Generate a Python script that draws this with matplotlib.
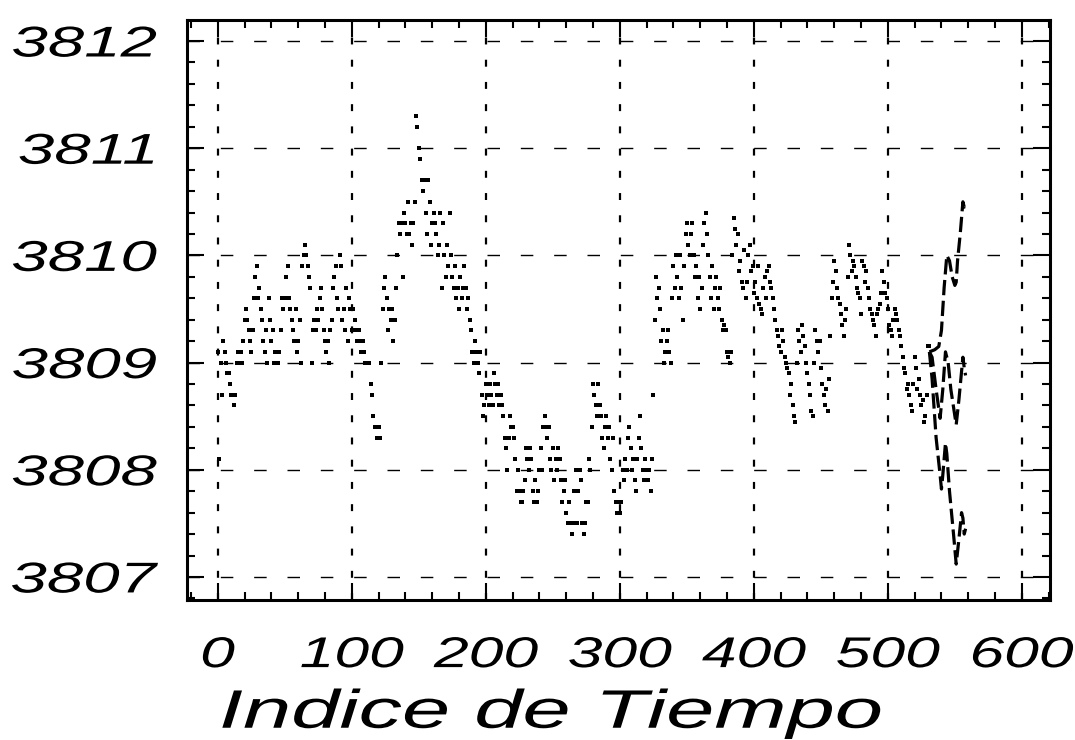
import numpy as np
import matplotlib
matplotlib.use('Agg')
import matplotlib.pyplot as plt
from matplotlib import patheffects
from matplotlib.transforms import Affine2D

plt.rcParams['font.family'] = ['Liberation Sans', 'DejaVu Sans']
plt.rcParams['lines.scale_dashes'] = False

# observed series, in tenths above 3800 (index 0..377)
obs_a = [91, 81, 90, 87, 92, 91, 90, 89, 89, 88, 87, 87,
         86, 87, 90, 91, 90, 91, 90, 92, 94,
         95, 94, 93, 92, 91, 93, 96, 98, 99, 96,
         97, 95, 94, 92, 91, 93, 90, 96, 94, 92,
         93, 90, 91, 90, 90, 91, 93, 96, 95, 96,
         98, 99, 96, 95, 94, 93, 92, 95, 91, 92,
         94, 90, 99, 100, 101, 100, 99, 98, 97, 90,
         93, 94, 93, 95, 94, 96, 97, 95, 93, 92,
         91, 92, 90, 93, 94, 97, 98, 99, 96, 95,
         100, 99, 94, 95, 93, 97, 92, 96, 95, 93,
         95, 94, 93, 92, 93, 92, 91, 92, 91, 90,
         90, 90, 90, 88, 87, 85, 84, 84, 83, 84, 83,
         90, 95, 97, 98, 96, 93, 95, 94, 95, 92, 94, 97,
         100, 103, 102, 103, 98, 104, 103, 102, 105, 102, 103, 101, 103, 105,
         113, 112, 110, 109, 107, 106, 107, 104, 102, 107, 105, 101, 103,
         104, 103, 102, 100, 101, 104, 97, 103, 100, 98, 101, 99, 104, 100, 98,
         97, 99, 96, 97, 95, 98, 96, 97, 99, 97, 95, 96, 94, 93, 91,
         90, 92, 91, 90, 89, 91, 87, 85, 86, 88,
         87, 86, 88, 87, 86, 89, 88, 87, 88, 86, 87, 86,
         85, 83, 82, 80, 83, 85, 84, 84, 83, 81,
         78, 80, 78, 77, 77, 78, 79, 82, 81, 80,
         82, 81, 78, 77, 79, 77, 78, 80, 82, 80,
         84, 85, 84, 83, 84, 81, 80, 82, 79, 81,
         80, 82, 81, 79, 77, 78, 79, 76, 75, 77,
         75, 74, 75, 78, 80, 75, 78, 80, 79, 75, 74, 75, 77, 77,
         81, 80, 84, 88, 87, 86, 85, 88, 86, 85, 83, 82, 84, 85,
         83, 84, 81, 80, 83, 78, 77, 76, 77, 76,
         77, 80, 79, 81, 80, 83, 84, 82, 80, 81, 79, 78, 81, 83, 85,
         82, 80, 79, 81, 80, 79, 80, 78, 81, 87,
         94, 98, 96, 97, 95, 92, 93, 90, 91, 92, 93, 91, 90,
         96, 99, 97, 100, 98, 96, 100, 97, 94, 99, 102, 103, 101, 100,
         102, 103, 100, 98, 99, 96, 98, 95, 97, 101, 103, 104, 102, 100,
         98, 96, 99, 95, 97, 98, 96, 95, 97, 94, 93]

# observed series, in hundredths above 3800 (continuation up to index ~531)
obs_b = [935, 930, 910, 905, 900, 910, 1000, 1035, 1025, 1010,
         1020, 985, 995, 975, 970, 1005, 960, 975, 1000, 1010,
         985, 990, 965, 975, 960, 990, 955, 950, 945, 970,
         980, 960, 985, 990, 975, 970, 960, 950, 940, 930,
         925, 915, 910, 930, 920, 905, 900, 895, 890, 870,
         880, 860, 850, 845, 900, 930, 920, 910, 935, 925,
         915, 900, 890, 880, 870, 855, 850, 900, 930, 920,
         910, 920, 895, 880, 870, 860, 875, 855, 885, 925,
         960, 975, 995, 985, 970, 960, 955, 945, 935, 925,
         940, 950, 980, 1010, 1000, 985, 995, 990, 980, 970,
         965, 960, 945, 995, 990, 975, 985, 970, 960, 950,
         945, 940, 935, 925, 945, 950, 955, 965, 985, 975,
         965, 960, 950, 935, 930, 925, 940, 950, 945, 940,
         930, 925, 915, 905, 895, 890, 875, 880, 870, 860,
         855, 880, 905, 895, 875, 885, 870, 860, 865, 845,
         850, 870, 915, 915]

# forecast (upper, central, lower), index and value above 3800
up_x = [531, 535, 538, 540, 542, 544, 546, 548, 550, 551, 552, 554, 556, 557, 558]
up_v = [9.10, 9.12, 9.15, 9.30, 9.70, 10.00, 9.95, 9.80, 9.72, 9.75, 9.95, 10.20, 10.50, 10.45, 10.48]
mid_x = [531, 533, 536, 539, 541, 543, 545, 547, 551, 553, 556, 557, 558]
mid_v = [9.10, 9.05, 8.75, 8.48, 8.75, 9.10, 9.00, 8.75, 8.42, 8.65, 9.05, 8.95, 8.88]
low_x = [531, 533, 536, 539, 540, 541, 543, 544, 546, 549, 551, 553, 555, 556, 557, 558]
low_v = [9.10, 8.85, 8.30, 7.95, 7.82, 7.95, 8.25, 8.15, 7.80, 7.40, 7.12, 7.35, 7.60, 7.55, 7.40, 7.45]

base = 3800
obs = np.concatenate([np.array(obs_a) / 10.0, np.array(obs_b) / 100.0]) + base
idx = np.arange(len(obs))


class Stretch(patheffects.AbstractPathEffect):
    # widen the glyphs horizontally (the original font is very wide)
    def __init__(self, sx, anchor='center'):
        super().__init__()
        self.sx = sx
        self.anchor = anchor

    def draw_path(self, renderer, gc, tpath, affine, rgbFace=None):
        ext = tpath.get_extents()
        a = {'left': ext.x0, 'center': (ext.x0 + ext.x1) / 2, 'right': ext.x1}[self.anchor]
        t = Affine2D().translate(-a, 0).scale(self.sx, 1).translate(a, 0) + affine
        renderer.draw_path(gc, tpath, t, rgbFace)


fig = plt.figure(figsize=(10.75, 7.4), dpi=100)
ax = fig.add_axes([187 / 1075, 1 - 600 / 740, (1050 - 187) / 1075, 580 / 740])

ax.plot(idx, obs, linestyle='none', marker='s', markersize=2.2,
        markeredgewidth=0, color='black')
for fx, fv in [(up_x, up_v), (mid_x, mid_v), (low_x, low_v)]:
    ax.plot(fx, np.array(fv) + base, color='black', lw=2.3, dashes=(11, 4))

ax.set_xlim(-23, 621)
ax.set_ylim(3806.785, 3812.196)
ax.set_xticks(np.arange(0, 601, 100))
ax.set_xticks(np.arange(-20, 621, 20), minor=True)
ax.set_yticks(np.arange(3807, 3813, 1))
ax.set_yticks(np.arange(3806.8, 3812.2, 0.2), minor=True)

for xv in np.arange(0, 601, 100):
    ax.axvline(xv, color='black', lw=1.6, dashes=(5, 11), zorder=0)
for yv in np.arange(3807, 3813, 1):
    ax.axhline(yv, color='black', lw=1.0, dashes=(9, 15), zorder=0)

ax.tick_params(which='both', direction='in', top=True, right=True, width=1.5, color='black')
ax.tick_params(which='major', length=12)
ax.tick_params(which='minor', length=6)
ax.tick_params(axis='y', which='major', pad=22)
ax.tick_params(axis='x', which='major', pad=26)
for s in ax.spines.values():
    s.set_linewidth(2.2)

for lab in ax.get_yticklabels():
    lab.set_fontsize(31)
    lab.set_fontstyle('italic')
    lab.set_path_effects([Stretch(1.52, 'right')])
for lab in ax.get_xticklabels():
    lab.set_fontsize(31)
    lab.set_fontstyle('italic')
    lab.set_path_effects([Stretch(1.45, 'center')])

xl = ax.set_xlabel('Indice de Tiempo', fontsize=39, fontstyle='italic')
ax.xaxis.set_label_coords((551 - 187) / 863, -0.153)
xl.set_verticalalignment('top')
xl.set_path_effects([Stretch(1.6, 'center')])

fig.savefig('out.png', dpi=100)
